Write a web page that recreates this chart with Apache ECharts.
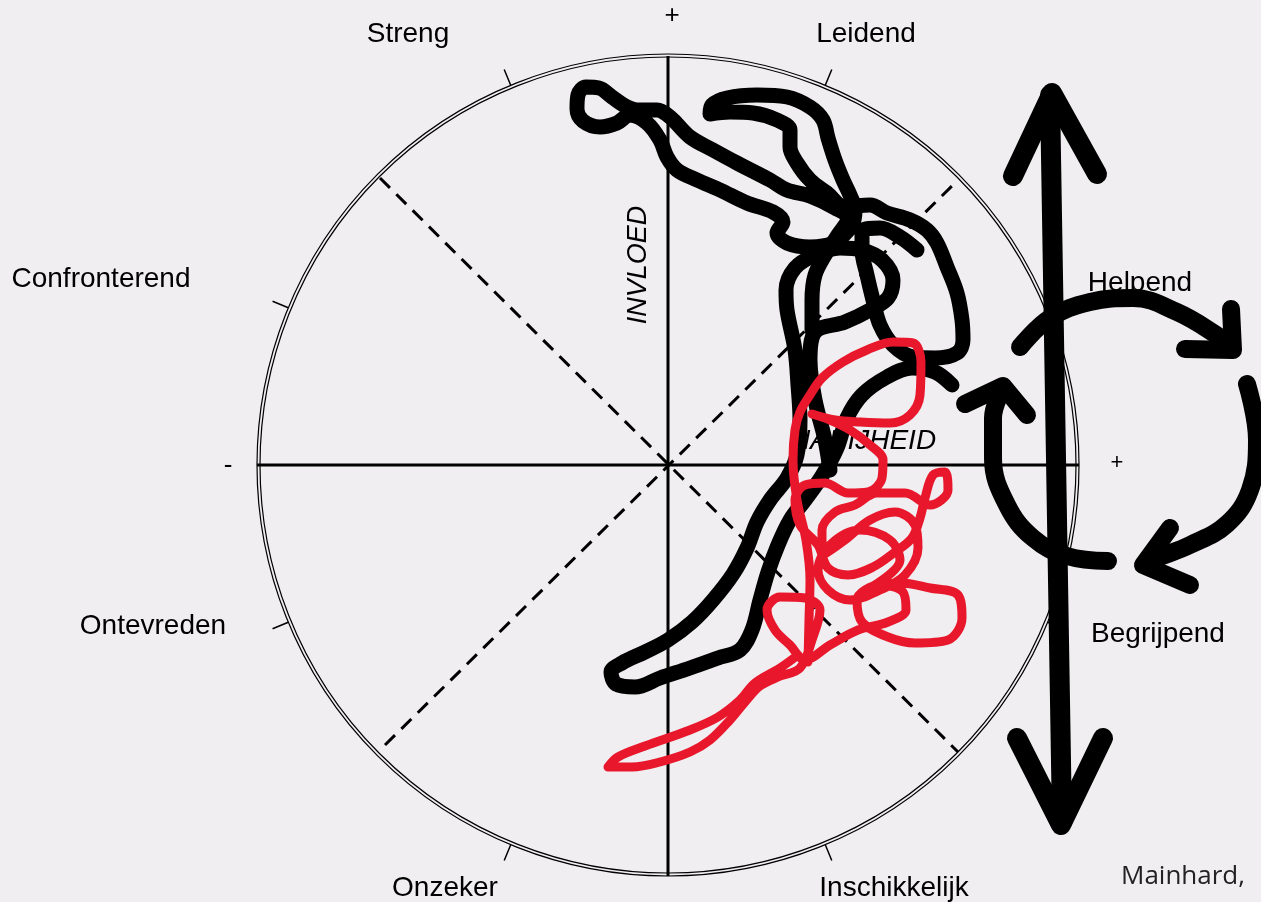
<!DOCTYPE html>
<html>
<head>
<meta charset="utf-8">
<script src="https://cdn.jsdelivr.net/npm/echarts@6/dist/echarts.min.js"></script>
<style>
html,body{margin:0;padding:0;background:#f0eef0;}
#main{width:1261px;height:902px;}
</style>
</head>
<body>
<div id="main"></div>
<script>
// units: offset from the centre of the circle, radius of the circle = 411, y up

var octantNames = ['Leidend', 'Helpend', 'Begrijpend', 'Inschikkelijk', 'Onzeker', 'Ontevreden', 'Confronterend', 'Streng'];
var poleSigns = ['+', '-', '+'];
var axisNames = ['INVLOED', 'NABIJHEID'];
var sourceNote = 'Mainhard,';

// main axes and dashed diagonals
var axisH = [[-411, 0], [411, 0]];
var axisV = [[0, 409], [0, -411]];
var diagA = [[-288, 287], [290, -287]];
var diagB = [[-283, -280], [290, 285]];

// black trajectory, first stroke (right end -> leg -> column -> loop)
var blackA = [[284,80],[267,93],[244,97],[219,88],[194,70],[179,47],[169,17],[154,-11],[137,-35],[122,-55],
  [110,-80],[100,-107],[92,-135],[84,-165],[72,-185],[50,-193],[22,-203],[-8,-213],[-33,-222],[-52,-219],
  [-57,-207],[-46,-198],[-23,-187],[0,-175],[24,-157],[45,-135],[65,-109],[79,-83],[89,-57],[102,-35],
  [119,-13],[129,10],[132,45],[130,80],[127,115],[119,155],[118,175],[127,197],[147,210],[172,217],
  [194,215],[214,205],[225,185],[220,167],[202,155],[177,143],[147,133],[142,105],[147,65],[157,25],[162,-5]];

// black trajectory, second stroke (knot -> top-left loop -> hook -> right arc)
var blackB = [[144,135],[144,165],[147,190],[157,210],[170,230],[180,247],[167,257],[142,269],[119,275],[102,285],
  [69,302],[45,315],[22,328],[2,348],[-11,355],[-31,355],[-41,358],[-56,368],[-69,377],[-82,378],
  [-90,370],[-91,356],[-85,344],[-68,338],[-51,342],[-38,350],[-21,342],[-8,325],[-1,308],[9,295],
  [29,285],[52,275],[79,262],[105,253],[115,243],[109,232],[119,222],[142,218],[165,222],[184,240],
  [187,255],[182,270],[175,285],[167,305],[160,327],[155,345],[142,358],[119,368],[89,370],[59,367],
  [44,360],[42,351],[62,353],[85,352],[109,345],[122,335],[122,318],[129,302],[142,285],[159,272],
  [177,258],[202,260],[219,252],[242,245],[259,235],[269,222],[279,198],[289,172],[294,145],[295,125],
  [289,112],[267,107],[245,108],[225,120],[212,140],[205,165],[199,190],[194,215],[194,233],[212,237],
  [232,228],[249,215]];

// red trajectory
var redPath = [[140,-197],[141,-155],[142,-115],[138,-75],[129,-35],[125,5],[127,35],[132,53],[142,70],[154,87],
  [175,103],[199,115],[225,123],[245,122],[253,103],[252,70],[242,50],[222,42],[192,43],[167,45],
  [144,51],[162,45],[182,35],[202,20],[215,5],[214,-13],[200,-27],[180,-28],[157,-18],[137,-20],
  [127,-35],[132,-60],[150,-80],[160,-103],[180,-110],[205,-102],[227,-87],[244,-73],[252,-53],[257,-33],
  [265,-10],[277,-7],[280,-25],[262,-40],[237,-28],[209,-28],[187,-40],[167,-47],[154,-65],[155,-90],
  [177,-75],[202,-55],[227,-47],[247,-60],[250,-83],[237,-110],[212,-125],[182,-135],[160,-125],[150,-105],
  [162,-80],[192,-65],[222,-75],[232,-95],
  [202,-123],[232,-118],[262,-123],[290,-130],[294,-153],[280,-175],[247,-178],[220,-172],[194,-157],
  [189,-135],[212,-120],[235,-127],[238,-145],[220,-157],[190,-165],[162,-180],[137,-195],[122,-180],[107,-165],
  [99,-145],[112,-132],[137,-133],[152,-145],[144,-175],[132,-203],[110,-212],[92,-221],[77,-237],[62,-255],
  [42,-275],[22,-287],[-8,-297],[-36,-302],[-60,-302],[-50,-292],[-23,-281],[22,-265],[50,-252],[72,-235],
  [87,-218],[112,-203],[130,-190]];

// annotation arrows on the right
var shaft = [[382, 370], [394, -357]];
var headTop = [[345, 289], [384, 372], [429, 291]];
var headBottom = [[349, -273], [393, -360], [435, -273]];
var arcUpper = [[352,118],[382,147],[422,163],[465,167],[509,153],[547,131],[560,120]];
var arcUpperHead = [[517, 116], [565, 115], [563, 156]];
var arcRight = [[579,81],[589,25],[582,-25],[559,-59],[522,-80],[489,-93],[478,-98]];
var arcRightHead = [[502, -63], [475, -100], [522, -120]];
var arcLower = [[440,-96],[399,-91],[365,-73],[339,-40],[325,7],[325,47],[334,75]];
var arcLowerHead = [[297, 61], [335, 79], [359, 50]];

// layout of texts (pixels)
var octantPos = [[866,34],[1140,283],[1158,634],[894,888],[445,888],[153,626],[101,279],[408,34]];
var polePos = [[672,16],[228,466],[1117,463]];

function stroke(data, color, width, smooth, z){
  return {
    type: 'line', data: data, showSymbol: false, symbol: 'none', smooth: smooth,
    clip: false, silent: true, z: z, animation: false,
    lineStyle: {color: color, width: width, cap: 'round', join: 'round'}
  };
}

var texts = [];
octantNames.forEach(function(n, i){
  texts.push({type:'text', x: octantPos[i][0], y: octantPos[i][1],
    style:{text:n, font:'28px "Liberation Sans", Arial', fill:'#000', textAlign:'center', textVerticalAlign:'middle'}});
});
poleSigns.forEach(function(s, i){
  texts.push({type:'text', x: polePos[i][0], y: polePos[i][1],
    style:{text:s, font:(i === 2 ? '22px' : '26px') + ' "Liberation Sans", Arial', fill:'#000', textAlign:'center', textVerticalAlign:'middle'}});
});
texts.push({type:'text', x:638, y:265, rotation: Math.PI/2,
  style:{text:axisNames[0], font:'italic 27px "Liberation Sans", Arial', fill:'#000', textAlign:'center', textVerticalAlign:'middle'}});
texts.push({type:'text', x:863, y:441,
  style:{text:axisNames[1], font:'italic 28px "Liberation Sans", Arial', fill:'#000', textAlign:'center', textVerticalAlign:'middle'}});
texts.push({type:'text', x:1121, y:877,
  style:{text:sourceNote, font:'26px "Open Sans", Lato', fill:'#222', textAlign:'left', textVerticalAlign:'middle'}});

var myChart = echarts.init(document.getElementById('main'));
var option = {
  backgroundColor: '#f0eef0',
  animation: false,
  grid: {left: 0, top: 0, width: 1261, height: 902},
  xAxis: {type: 'value', min: -668, max: 593, show: false},
  yAxis: {type: 'value', min: -437, max: 465, show: false},
  polar: [
    {center: [668, 465], radius: 411},
    {center: [668, 465], radius: 408}
  ],
  angleAxis: [
    {polarIndex: 0, type: 'value', min: 0, max: 360, interval: 45, startAngle: 22.5,
      axisLine: {lineStyle: {color: '#000', width: 1.2}},
      axisTick: {length: 17, lineStyle: {color: '#000', width: 1.5}},
      axisLabel: {show: false}, splitLine: {show: false}},
    {polarIndex: 1, type: 'value', min: 0, max: 360, interval: 45, startAngle: 22.5,
      axisLine: {lineStyle: {color: '#000', width: 1.2}},
      axisTick: {show: false}, axisLabel: {show: false}, splitLine: {show: false}}
  ],
  radiusAxis: [
    {polarIndex: 0, type: 'value', min: 0, max: 1, show: false},
    {polarIndex: 1, type: 'value', min: 0, max: 1, show: false}
  ],
  graphic: texts,
  series: [
    {type: 'line', data: axisH, showSymbol: false, symbol: 'none', silent: true, z: 1,
      lineStyle: {color: '#000', width: 3}},
    {type: 'line', data: axisV, showSymbol: false, symbol: 'none', silent: true, z: 1,
      lineStyle: {color: '#000', width: 3}},
    {type: 'line', data: diagA, showSymbol: false, symbol: 'none', silent: true, z: 1,
      lineStyle: {color: '#000', width: 3, type: [14, 9]}},
    {type: 'line', data: diagB, showSymbol: false, symbol: 'none', silent: true, z: 1,
      lineStyle: {color: '#000', width: 3, type: [14, 9]}},
    stroke(blackA, '#000', 15, 0.35, 3),
    stroke(blackB, '#000', 15, 0.35, 3),
    stroke(redPath, '#e8172b', 9, 0.35, 4),
    stroke(shaft, '#000', 20, false, 5),
    stroke(headTop, '#000', 20, false, 5),
    stroke(headBottom, '#000', 20, false, 5),
    stroke(arcUpper, '#000', 18, 0.4, 5),
    stroke(arcUpperHead, '#000', 18, false, 5),
    stroke(arcRight, '#000', 18, 0.4, 5),
    stroke(arcRightHead, '#000', 18, false, 5),
    stroke(arcLower, '#000', 18, 0.4, 5),
    stroke(arcLowerHead, '#000', 18, false, 5)
  ]
};
myChart.setOption(option);
</script>
</body>
</html>
